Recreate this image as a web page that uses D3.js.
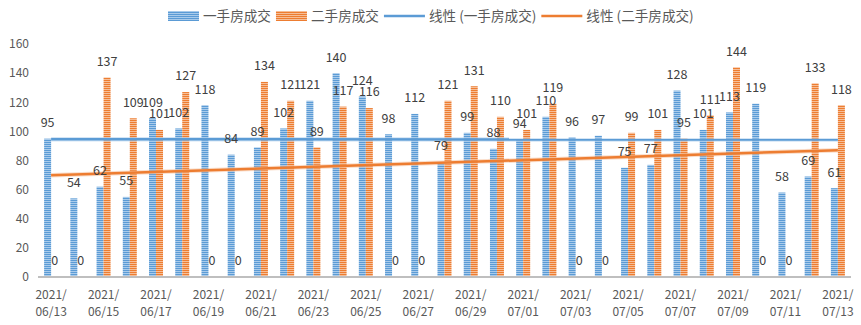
<!DOCTYPE html>
<html><head><meta charset="utf-8">
<script src="https://cdn.jsdelivr.net/npm/d3@7"></script>
<style>
html,body{margin:0;padding:0;background:#fff;}
svg{display:block;font-family:"Noto Sans CJK SC","Microsoft YaHei",sans-serif;}
</style></head>
<body><svg id="chart" width="861" height="325"></svg>
<script>
const categories = ["2021/06/13","2021/06/14","2021/06/15","2021/06/16","2021/06/17","2021/06/18","2021/06/19","2021/06/20","2021/06/21","2021/06/22","2021/06/23","2021/06/24","2021/06/25","2021/06/26","2021/06/27","2021/06/28","2021/06/29","2021/06/30","2021/07/01","2021/07/02","2021/07/03","2021/07/04","2021/07/05","2021/07/06","2021/07/07","2021/07/08","2021/07/09","2021/07/10","2021/07/11","2021/07/12","2021/07/13"];
const newHomes = [95,54,62,55,109,102,118,84,89,102,121,140,124,98,112,79,99,88,94,110,96,97,75,77,128,101,113,119,58,69,61];
const secondHomes = [0,0,137,109,101,127,0,0,134,121,89,117,116,0,0,121,131,110,101,119,0,0,99,101,95,111,144,0,0,133,118];
const seriesNames = ["一手房成交","二手房成交"];
const trendNames = ["线性 (一手房成交)","线性 (二手房成交)"];
const yTicks = [0,20,40,60,80,100,120,140,160];

const colors = ["#5B9BD5","#ED7D31"];
const lightColors = ["#A9CBEB","#F6BE98"];

const svg = d3.select("#chart");
const defs = svg.append("defs");
colors.forEach((c,i)=>{
  const p = defs.append("pattern").attr("id","pat"+i).attr("patternUnits","userSpaceOnUse")
    .attr("width",4).attr("height",2);
  p.append("rect").attr("width",4).attr("height",2).attr("fill",lightColors[i]);
  p.append("rect").attr("width",4).attr("height",1).attr("fill",c);
});

const left = 38, right = 851, y0 = 277, yTop = 44;
const x0 = d3.scaleBand().domain(categories).range([left,right]).paddingInner(0.466).paddingOuter(0.233);
const x1 = d3.scaleBand().domain([0,1]).range([0,x0.bandwidth()]);
const y = d3.scaleLinear().domain([0,160]).range([y0,yTop]);

// y axis labels
const yAxis = d3.axisLeft(y).tickValues(yTicks).tickSize(0).tickPadding(0);
const yg = svg.append("g").attr("transform","translate(29,0)").call(yAxis);
yg.select(".domain").remove();
yg.selectAll("text").attr("fill","#595959").attr("font-size",12).attr("font-family","Noto Sans CJK SC");

// bars
const data = [newHomes, secondHomes];
data.forEach((vals,si)=>{
  const g = svg.append("g");
  g.selectAll("rect").data(vals).join("rect")
    .attr("x",(d,i)=>x0(categories[i])+x1(si))
    .attr("width",x1.bandwidth())
    .attr("y",d=>y(d))
    .attr("height",d=>y0-y(d))
    .attr("fill","url(#pat"+si+")");
});

// trendlines (least squares fit of each series)
function fit(vals){
  const n = vals.length, mx = (n-1)/2, my = d3.mean(vals);
  let sxy=0, sxx=0;
  vals.forEach((v,i)=>{sxy+=(i-mx)*(v-my); sxx+=(i-mx)*(i-mx);});
  const b = sxy/sxx, a = my - b*mx;
  return i=>a+b*i;
}
const cx = i=>x0(categories[i])+x0.bandwidth()/2;
data.forEach((vals,si)=>{
  const f = fit(vals);
  const pts = [0,categories.length-1].map(i=>[cx(i),y(f(i))]);
  const line = d3.line();
  svg.append("path").attr("d",line(pts)).attr("stroke",lightColors[si]).attr("stroke-width",4.5).attr("opacity",0.5).attr("fill","none");
  svg.append("path").attr("d",line(pts)).attr("stroke",colors[si]).attr("stroke-width",2.5).attr("fill","none");
});

// x axis line
svg.append("line").attr("x1",left).attr("x2",right).attr("y1",y0).attr("y2",y0)
  .attr("stroke","#BFBFBF").attr("stroke-width",2);

// x labels
const xAxis = d3.axisBottom(x0).tickValues(categories.filter((d,i)=>i%2===0)).tickSize(0).tickFormat("");
const xg = svg.append("g").attr("transform",`translate(0,${y0})`).call(xAxis);
xg.select(".domain").remove();
xg.selectAll(".tick").each(function(d){
  const t = d3.select(this).append("text").attr("fill","#595959").attr("font-size",12)
    .attr("text-anchor","middle").attr("font-family","Noto Sans CJK SC");
  const k = d.indexOf("/");
  t.append("tspan").attr("x",0).attr("y",22).text(d.slice(0,k+1));
  t.append("tspan").attr("x",0).attr("y",39).text(d.slice(k+1));
});

// data labels
data.forEach((vals,si)=>{
  svg.append("g").selectAll("text").data(vals).join("text")
    .attr("x",(d,i)=>x0(categories[i])+x1(si)+x1.bandwidth()/2)
    .attr("y",d=>y(d)-16)
    .attr("dy","0.35em")
    .attr("text-anchor","middle")
    .attr("font-size",12.5).attr("fill","#404040")
    .text(d=>d);
});

// legend
const lg = svg.append("g");
let lx = 168;
const ly = 16;
const items = [
  {type:"bar", i:0, name:seriesNames[0]},
  {type:"bar", i:1, name:seriesNames[1]},
  {type:"line", i:0, name:trendNames[0]},
  {type:"line", i:1, name:trendNames[1]}
];
items.forEach(it=>{
  if(it.type==="bar"){
    lg.append("rect").attr("x",lx).attr("y",ly-5).attr("width",31).attr("height",10).attr("fill","url(#pat"+it.i+")");
    lx += 35;
  } else {
    lg.append("line").attr("x1",lx).attr("x2",lx+41).attr("y1",ly).attr("y2",ly).attr("stroke",colors[it.i]).attr("stroke-width",2.5);
    lx += 45;
  }
  const t = lg.append("text").attr("x",lx).attr("y",ly).attr("dy","0.35em")
    .attr("font-size",13.6).attr("fill","#595959").text(it.name);
  lx += t.node().getComputedTextLength() + 5;
});
</script></body></html>
